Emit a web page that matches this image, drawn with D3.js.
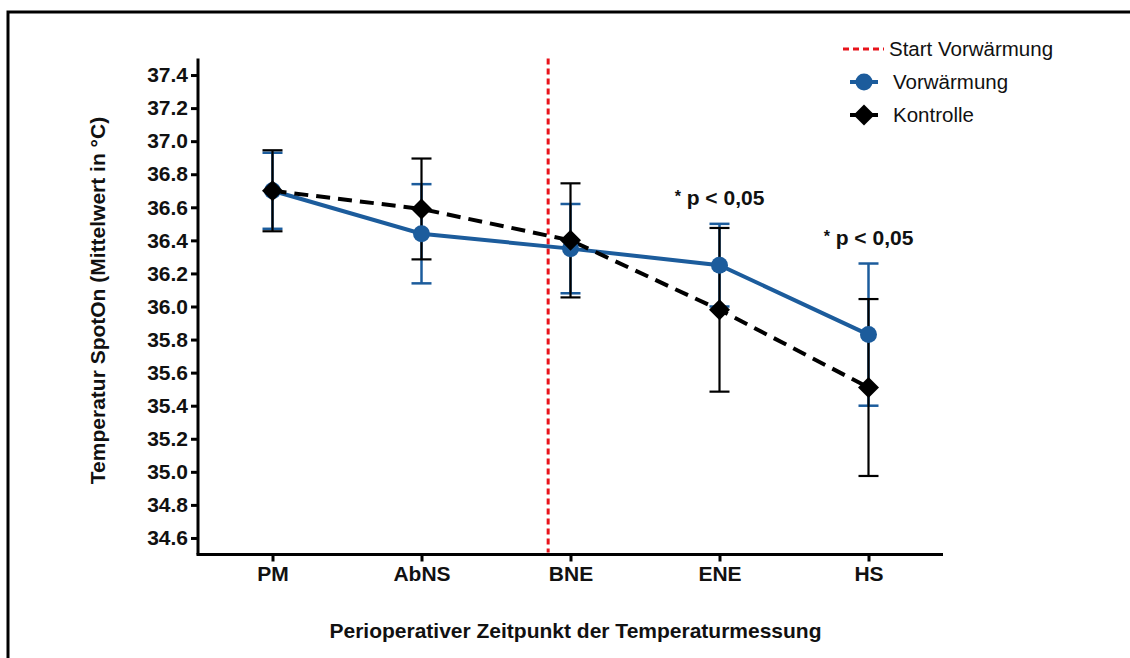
<!DOCTYPE html>
<html>
<head>
<meta charset="utf-8">
<script src="https://cdn.jsdelivr.net/npm/d3@7"></script>
<style>
  html, body { margin: 0; padding: 0; background: #fff; }
  svg { display: block; font-family: "Liberation Sans", Arial, sans-serif; }
</style>
</head>
<body>
<svg id="chart" width="1130" height="658"></svg>
<script>
// ---- data ----
const categories = ["PM", "AbNS", "BNE", "ENE", "HS"];
const vorMean = [36.70, 36.44, 36.35, 36.25, 35.83];
const vorSD   = [0.23, 0.30, 0.27, 0.25, 0.43];
const konMean = [36.70, 36.59, 36.40, 35.98, 35.51];
const konSD   = [0.245, 0.305, 0.345, 0.495, 0.535];
const yTicks  = [34.6, 34.8, 35.0, 35.2, 35.4, 35.6, 35.8, 36.0, 36.2, 36.4, 36.6, 36.8, 37.0, 37.2, 37.4];
const startIndex = 1.85; // Start Vorwärmung, between AbNS (1) and BNE (2)
const sigCategories = ["ENE", "HS"];
const sigLabel = "p < 0,05";
const legendLabels = ["Start Vorwärmung", "Vorwärmung", "Kontrolle"];

(function () {
// ---- layout ----
const svg = d3.select("#chart");
const pLeft = 198, pRight = 943, pTop = 58.5, pBottom = 554.5;
const blue = "#1c5c9c";
const fs = 21;

const x = d3.scalePoint().domain(categories).range([pLeft, pRight]).padding(0.5);
const y = d3.scaleLinear().domain([34.5, 37.5]).range([pBottom, pTop]);

// border
svg.append("path")
  .attr("d", "M8,660 V12 H1132")
  .attr("fill", "none").attr("stroke", "#000").attr("stroke-width", 3);

// y axis
const yAxis = svg.append("g").attr("transform", `translate(${pLeft},0)`)
  .call(d3.axisLeft(y).tickValues(yTicks).tickFormat(d3.format(".1f")).tickSize(7).tickPadding(3));
yAxis.select(".domain").attr("stroke-width", 3).attr("d", `M0,${pTop}V${pBottom}`);
yAxis.selectAll(".tick line").attr("stroke-width", 3);
yAxis.selectAll(".tick text").attr("font-size", fs).attr("font-weight", "bold").attr("fill", "#111")
  .attr("font-family", "Liberation Sans, Arial, sans-serif");

// x axis
const xAxis = svg.append("g").attr("transform", `translate(0,${pBottom})`)
  .call(d3.axisBottom(x).tickSize(7).tickPadding(5));
xAxis.select(".domain").attr("stroke-width", 3).attr("d", `M${pLeft - 1.5},0H${pRight}`);
xAxis.selectAll(".tick line").attr("stroke-width", 3);
xAxis.selectAll(".tick text").attr("font-size", fs).attr("font-weight", "bold").attr("fill", "#111")
  .attr("font-family", "Liberation Sans, Arial, sans-serif");

// axis titles
svg.append("text")
  .attr("transform", `translate(105,${(pTop + pBottom) / 2 - 6}) rotate(-90)`)
  .attr("text-anchor", "middle").attr("font-size", fs).attr("font-weight", "bold").attr("fill", "#111")
  .text("Temperatur SpotOn (Mittelwert in °C)");
svg.append("text")
  .attr("x", (pLeft + pRight) / 2 + 5).attr("y", 638)
  .attr("text-anchor", "middle").attr("font-size", fs).attr("font-weight", "bold").attr("fill", "#111")
  .text("Perioperativer Zeitpunkt der Temperaturmessung");

// red start line
const xStart = x(categories[0]) + startIndex * x.step();
svg.append("line")
  .attr("x1", xStart).attr("x2", xStart).attr("y1", pTop).attr("y2", pBottom - 2)
  .attr("stroke", "#e8141c").attr("stroke-width", 3).attr("stroke-dasharray", "6,4");

// error bars
function errorBars(means, sds, color, w) {
  const g = svg.append("g");
  means.forEach((m, i) => {
    const cx = x(categories[i]);
    const y1 = y(m + sds[i]), y2 = y(m - sds[i]);
    g.append("line").attr("x1", cx).attr("x2", cx).attr("y1", y1).attr("y2", y2)
      .attr("stroke", color).attr("stroke-width", w);
    [y1, y2].forEach(yy => g.append("line")
      .attr("x1", cx - 10).attr("x2", cx + 10).attr("y1", yy).attr("y2", yy)
      .attr("stroke", color).attr("stroke-width", w));
  });
}
errorBars(vorMean, vorSD, blue, 2.5);
errorBars(konMean, konSD, "#000", 2.2);

// lines
const line = d3.line().x((d, i) => x(categories[i])).y(d => y(d));
svg.append("path").datum(vorMean).attr("d", line)
  .attr("fill", "none").attr("stroke", blue).attr("stroke-width", 4);
svg.append("path").datum(konMean).attr("d", line)
  .attr("fill", "none").attr("stroke", "#000").attr("stroke-width", 4).attr("stroke-dasharray", "14,8");

// markers
svg.append("g").selectAll("circle").data(vorMean).join("circle")
  .attr("cx", (d, i) => x(categories[i])).attr("cy", d => y(d)).attr("r", 8.5).attr("fill", blue);
const diamond = "M0,-10.5L10.5,0L0,10.5L-10.5,0Z";
svg.append("g").selectAll("path").data(konMean).join("path")
  .attr("transform", (d, i) => `translate(${x(categories[i])},${y(d)})`)
  .attr("d", diamond).attr("fill", "#000");

// significance labels
sigCategories.forEach(c => {
  const i = categories.indexOf(c);
  const topVal = Math.max(vorMean[i] + vorSD[i], konMean[i] + konSD[i]);
  const t = svg.append("text")
    .attr("x", x(c)).attr("y", y(topVal) - 19)
    .attr("text-anchor", "middle").attr("font-size", fs).attr("font-weight", "bold").attr("fill", "#111");
  t.append("tspan").attr("font-size", 16).attr("dy", -3).text("*");
  t.append("tspan").attr("dy", 3).text(" " + sigLabel);
});

// legend
const lg = svg.append("g").attr("font-size", 20.5).attr("fill", "#111");
lg.append("line").attr("x1", 843).attr("x2", 884).attr("y1", 49).attr("y2", 49)
  .attr("stroke", "#e8141c").attr("stroke-width", 3).attr("stroke-dasharray", "6,4");
lg.append("text").attr("x", 889).attr("y", 56).text(legendLabels[0]);
lg.append("line").attr("x1", 850).attr("x2", 878).attr("y1", 82).attr("y2", 82)
  .attr("stroke", blue).attr("stroke-width", 4);
lg.append("circle").attr("cx", 864).attr("cy", 82).attr("r", 8.5).attr("fill", blue);
lg.append("text").attr("x", 893).attr("y", 89).text(legendLabels[1]);
lg.append("line").attr("x1", 850).attr("x2", 878).attr("y1", 115).attr("y2", 115)
  .attr("stroke", "#000").attr("stroke-width", 4);
lg.append("path").attr("transform", "translate(864,115)").attr("d", diamond).attr("fill", "#000");
lg.append("text").attr("x", 893).attr("y", 122).text(legendLabels[2]);
})();
</script>
</body>
</html>
